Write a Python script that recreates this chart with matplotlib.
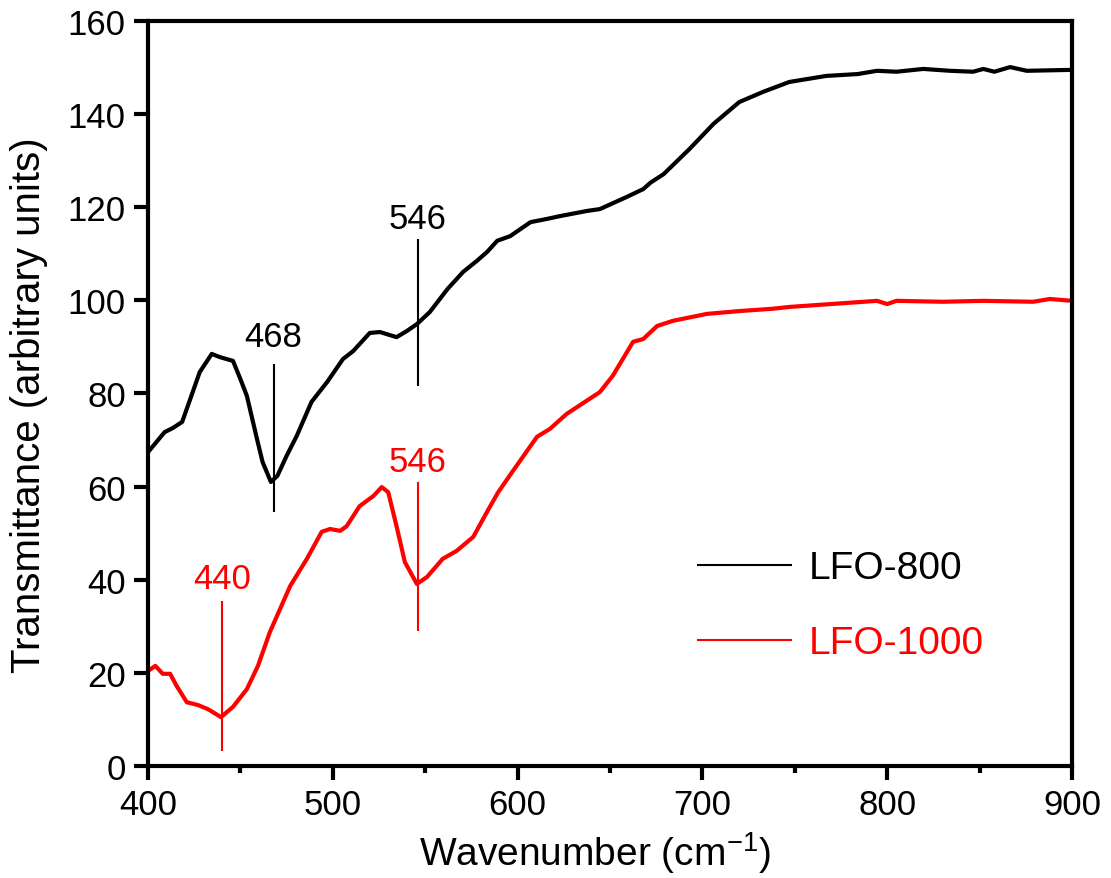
import matplotlib
matplotlib.use("Agg")
import matplotlib.pyplot as plt
from matplotlib.lines import Line2D
from matplotlib.ticker import MultipleLocator

plt.rcParams['font.family'] = ['Liberation Sans', 'DejaVu Sans']
plt.rcParams['mathtext.fontset'] = 'custom'
plt.rcParams['mathtext.rm'] = 'Liberation Sans'
plt.rcParams['mathtext.it'] = 'Liberation Sans'

# LFO-800 spectrum
wn800 = [400, 409, 413.5, 418.5, 422.5, 428, 434.5, 439, 446, 450, 453.5, 459, 462, 466.5,
         470, 475, 480.5, 488.5, 497, 505.5, 511, 520, 525.5, 534.5, 540, 545.5, 552.5, 562,
         570.5, 578, 583.5, 589, 596, 607, 616, 623, 637.5, 644.5, 659, 668, 672, 679, 693,
         706, 720, 733, 747, 767, 784, 794.5, 805, 819.5, 834, 846.5, 852, 858, 866.5, 875.5, 900]
t800 = [67.4, 71.7, 72.6, 73.9, 78.4, 84.6, 88.5, 87.8, 87.0, 83.1, 79.5, 70.2, 65.3, 61.0,
        62.3, 66.6, 70.9, 78.2, 82.5, 87.4, 89.1, 93.0, 93.2, 92.1, 93.4, 94.9, 97.5, 102.4,
        106.1, 108.5, 110.4, 112.8, 113.8, 116.8, 117.5, 118.1, 119.2, 119.6, 122.2, 123.9, 125.3,
        127.1, 132.5, 137.9, 142.6, 144.8, 146.9, 148.2, 148.6, 149.3, 149.1, 149.7, 149.3,
        149.1, 149.7, 149.1, 150.1, 149.3, 149.5]

# LFO-1000 spectrum
wn1000 = [400, 404, 408, 412, 415.5, 421, 427, 432.5, 439.5, 446, 453.5, 459.5, 466, 477, 486,
          494, 498.5, 504, 507.5, 514.5, 522, 526.5, 530, 534.5, 539, 545.5, 551, 559.5, 567,
          576, 583.5, 589.5, 597, 610.5, 617.5, 626.5, 644.5, 651.5, 662.5, 668, 675.5, 684,
          702.5, 720, 738, 747.5, 794.5, 800, 805, 830, 852, 879, 888, 900]
t1000 = [20.4, 21.5, 19.8, 19.8, 17.2, 13.7, 13.1, 12.2, 10.5, 12.7, 16.5, 21.5, 28.8, 38.7,
         44.5, 50.3, 50.9, 50.5, 51.5, 55.8, 58.0, 59.9, 58.8, 51.5, 43.8, 39.1, 40.6, 44.5,
         46.2, 49.2, 54.6, 58.8, 63.1, 70.7, 72.4, 75.6, 80.3, 83.8, 91.1, 91.7, 94.5, 95.6,
         97.1, 97.7, 98.2, 98.6, 99.9, 99.2, 99.9, 99.7, 99.9, 99.7, 100.3, 99.9]

# peak markers: position, line bottom, line top, label y, colour
peak_pos = [468, 546, 440, 546]
peak_lo = [54.6, 81.6, 3.2, 29.0]
peak_hi = [86.3, 113.2, 35.4, 61.0]
peak_txt_y = [92.3, 117.5, 40.2, 65.5]
peak_col = ['black', 'black', 'red', 'red']

fig = plt.figure(figsize=(11.11, 8.79), dpi=100)
ax = fig.add_axes([0.1332, 0.1274, 0.8317, 0.8476])

ax.plot(wn800, t800, color='black', lw=3, solid_joinstyle='round')
ax.plot(wn1000, t1000, color='red', lw=3, solid_joinstyle='round')

for p, lo, hi, ty, c in zip(peak_pos, peak_lo, peak_hi, peak_txt_y, peak_col):
    ax.vlines(p, lo, hi, color=c, lw=1.5)
    ax.text(p, ty, str(p), color=c, fontsize=25, ha='center', va='center')

ax.set_xlim(400, 900)
ax.set_ylim(0, 160)
ax.xaxis.set_major_locator(MultipleLocator(100))
ax.xaxis.set_minor_locator(MultipleLocator(50))
ax.yaxis.set_major_locator(MultipleLocator(20))

for s in ax.spines.values():
    s.set_linewidth(3)
ax.tick_params(axis='both', which='major', direction='out', length=10, width=3, labelsize=25, pad=6)
ax.tick_params(axis='x', which='minor', direction='out', length=5, width=3)
ax.tick_params(top=False, right=False)

ax.set_xlabel('Wavenumber (cm$^{-1}$)', fontsize=28)
ax.xaxis.set_label_coords(0.484, -0.085)
ax.set_ylabel('Transmittance (arbitrary units)', fontsize=29)
ax.yaxis.set_label_coords(-0.108, 0.485)

handles = [Line2D([], [], color='black', lw=1.5), Line2D([], [], color='red', lw=1.5)]
ax.legend(handles, ['LFO-800', 'LFO-1000'], loc='center left', bbox_to_anchor=(0.595, 0.215),
          frameon=False, fontsize=28, labelcolor='linecolor', handlelength=2.4,
          handletextpad=0.45, labelspacing=1.0, borderpad=0, borderaxespad=0)

fig.savefig('out.png', dpi=100)
